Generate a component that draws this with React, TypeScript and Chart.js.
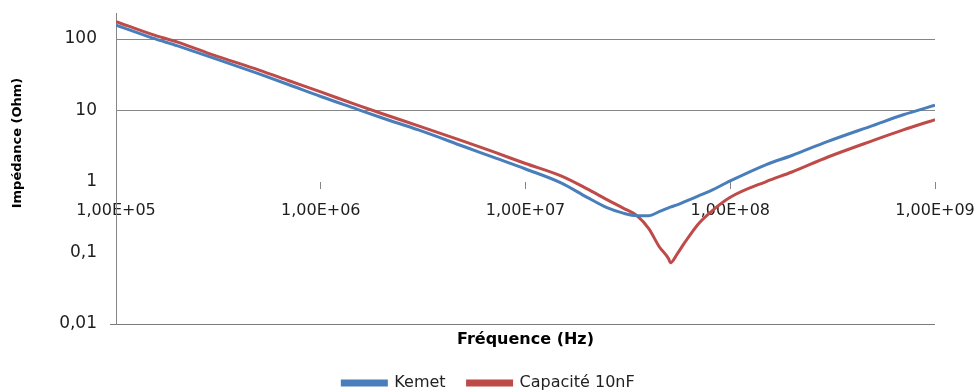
import React, { useEffect, useRef } from "react";
import { Chart, registerables } from "chart.js";

Chart.register(...registerables);

const frequencies = [
  1e5, 1.5e5, 2e5, 3e5, 5e5, 7e5, 1e6, 1.5e6, 2e6, 3e6, 5e6, 7e6, 1e7, 1.5e7,
  2e7, 2.5e7, 3e7, 3.5e7, 4e7, 4.5e7, 5e7, 5.1e7, 5.5e7, 6e7, 7e7, 8e7, 1e8,
  1.5e8, 2e8, 3e8, 5e8, 7e8, 1e9,
];

const kemet = [
  157, 104, 80, 54, 32.4, 22.8, 15.6, 10.4, 7.8, 5.3, 3.1, 2.18, 1.5, 0.95,
  0.6, 0.43, 0.36, 0.332, 0.332, 0.378, 0.427, 0.436, 0.47, 0.523, 0.629,
  0.74, 1.02, 1.73, 2.32, 3.66, 6.15, 8.65, 11.75,
];

const capacite10nF = [
  176, 116, 90.7, 59.6, 36.6, 26, 18.1, 11.9, 8.93, 6.05, 3.66, 2.6, 1.79,
  1.19, 0.789, 0.557, 0.424, 0.332, 0.218, 0.1215, 0.0822, 0.0723, 0.0959,
  0.1396, 0.256, 0.37, 0.6, 1.0, 1.36, 2.21, 3.78, 5.31, 7.4,
];

const seriesNames = ["Kemet", "Capacité 10nF"];
const xTickValues = [1e5, 1e6, 1e7, 1e8, 1e9];
const xTickLabels = ["1,00E+05", "1,00E+06", "1,00E+07", "1,00E+08", "1,00E+09"];
const yTickValues = [0.01, 0.1, 1, 10, 100];
const yTickLabels = ["0,01", "0,1", "1", "10", "100"];
const xTitle = "Fréquence (Hz)";
const yTitle = "Impédance (Ohm)";

const BLUE = "#4a7ebb";
const RED = "#be4b48";
const GRID = "#868686";

const yTitlePlugin = {
  id: "yTitlePlugin",
  afterDraw(chart: any) {
    const ctx = chart.ctx;
    const area = chart.chartArea;
    ctx.save();
    ctx.translate(18, area.top + 130);
    ctx.rotate(-Math.PI / 2);
    ctx.font = 'bold 13px "DejaVu Sans"';
    ctx.fillStyle = "#000";
    ctx.textAlign = "center";
    ctx.textBaseline = "middle";
    ctx.fillText(yTitle, 0, 0);
    ctx.restore();
  },
};

export default function App() {
  const canvasRef = useRef<HTMLCanvasElement | null>(null);

  useEffect(() => {
    if (!canvasRef.current) return;
    const mk = (vals: number[]) => frequencies.map((f, i) => ({ x: f, y: vals[i] }));
    const chart = new Chart(canvasRef.current, {
      type: "scatter",
      data: {
        datasets: [
          {
            label: seriesNames[0],
            data: mk(kemet),
            borderColor: BLUE,
            backgroundColor: BLUE,
            borderWidth: 3,
            showLine: true,
            pointRadius: 0,
            cubicInterpolationMode: "monotone",
          },
          {
            label: seriesNames[1],
            data: mk(capacite10nF),
            borderColor: RED,
            backgroundColor: RED,
            borderWidth: 3,
            showLine: true,
            pointRadius: 0,
            cubicInterpolationMode: "monotone",
          },
        ],
      },
      options: {
        responsive: false,
        animation: false,
        devicePixelRatio: 1,
        layout: { padding: { top: 13, left: 0, right: 0, bottom: 0 } },
        plugins: {
          tooltip: { enabled: false },
          legend: {
            position: "bottom",
            labels: {
              boxWidth: 44,
              boxHeight: 4,
              padding: 22,
              color: "#222",
              font: { family: '"DejaVu Sans"', size: 16 },
            },
          },
        },
        scales: {
          x: {
            type: "logarithmic",
            min: 1e5,
            max: 1e9,
            position: { y: 1 } as any,
            afterBuildTicks: (s: any) => {
              s.ticks = xTickValues.map((v) => ({ value: v }));
            },
            afterFit: (s: any) => {
              s.paddingLeft = 0;
              s.paddingRight = 0;
            },
            ticks: {
              autoSkip: false,
              maxRotation: 0,
              padding: 13,
              color: "#1e1e1e",
              font: { family: '"DejaVu Sans"', size: 16 },
              callback: (_v: any, i: number) => xTickLabels[i],
            },
            grid: {
              drawOnChartArea: false,
              drawTicks: true,
              tickLength: 7,
              color: GRID,
            },
            border: { display: false },
          },
          xb: {
            type: "logarithmic",
            min: 1e5,
            max: 1e9,
            position: "bottom",
            afterFit: (s: any) => {
              s.height = 29;
              s.paddingLeft = 0;
              s.paddingRight = 0;
            },
            ticks: { display: false },
            grid: { display: false },
            border: { display: false },
            title: {
              display: true,
              text: xTitle,
              color: "#000",
              font: { family: '"DejaVu Sans"', size: 16, weight: "bold" },
              padding: { top: 0, bottom: 4 },
            },
          },
          y: {
            type: "logarithmic",
            min: 0.01,
            max: 232,
            position: "left",
            afterFit: (s: any) => {
              s.width = 116;
              s.paddingTop = 0;
              s.paddingBottom = 0;
            },
            afterBuildTicks: (s: any) => {
              s.ticks = yTickValues.map((v) => ({ value: v }));
            },
            ticks: {
              padding: 13,
              color: "#1e1e1e",
              font: { family: '"DejaVu Sans"', size: 17 },
              callback: (_v: any, i: number) => yTickLabels[i],
            },
            grid: {
              drawTicks: true,
              tickLength: 6,
              color: (ctx: any) => {
                const v = ctx.tick ? ctx.tick.value : 0;
                if (v === 0.01) return "#7a7a7a";
                if (v === 10 || v === 100) return GRID;
                return "rgba(0,0,0,0)";
              },
              tickColor: (ctx: any) => {
                const v = ctx.tick ? ctx.tick.value : 0;
                return v === 0.01 ? "#7a7a7a" : "rgba(0,0,0,0)";
              },
            },
            border: { display: true, color: GRID },
          },
          yr: {
            type: "linear",
            position: "right",
            afterFit: (s: any) => {
              s.width = 42;
              s.paddingTop = 0;
              s.paddingBottom = 0;
            },
            ticks: { display: false },
            grid: { display: false },
            border: { display: false },
          },
        },
      },
      plugins: [yTitlePlugin],
    } as any);
    return () => chart.destroy();
  }, []);

  return (
    <div
      style={{
        position: "absolute",
        left: 0,
        top: 0,
        width: 977,
        height: 392,
        overflow: "hidden",
        background: "#fff",
      }}
    >
      <canvas ref={canvasRef} width={977} height={401} style={{ display: "block" }} />
    </div>
  );
}
